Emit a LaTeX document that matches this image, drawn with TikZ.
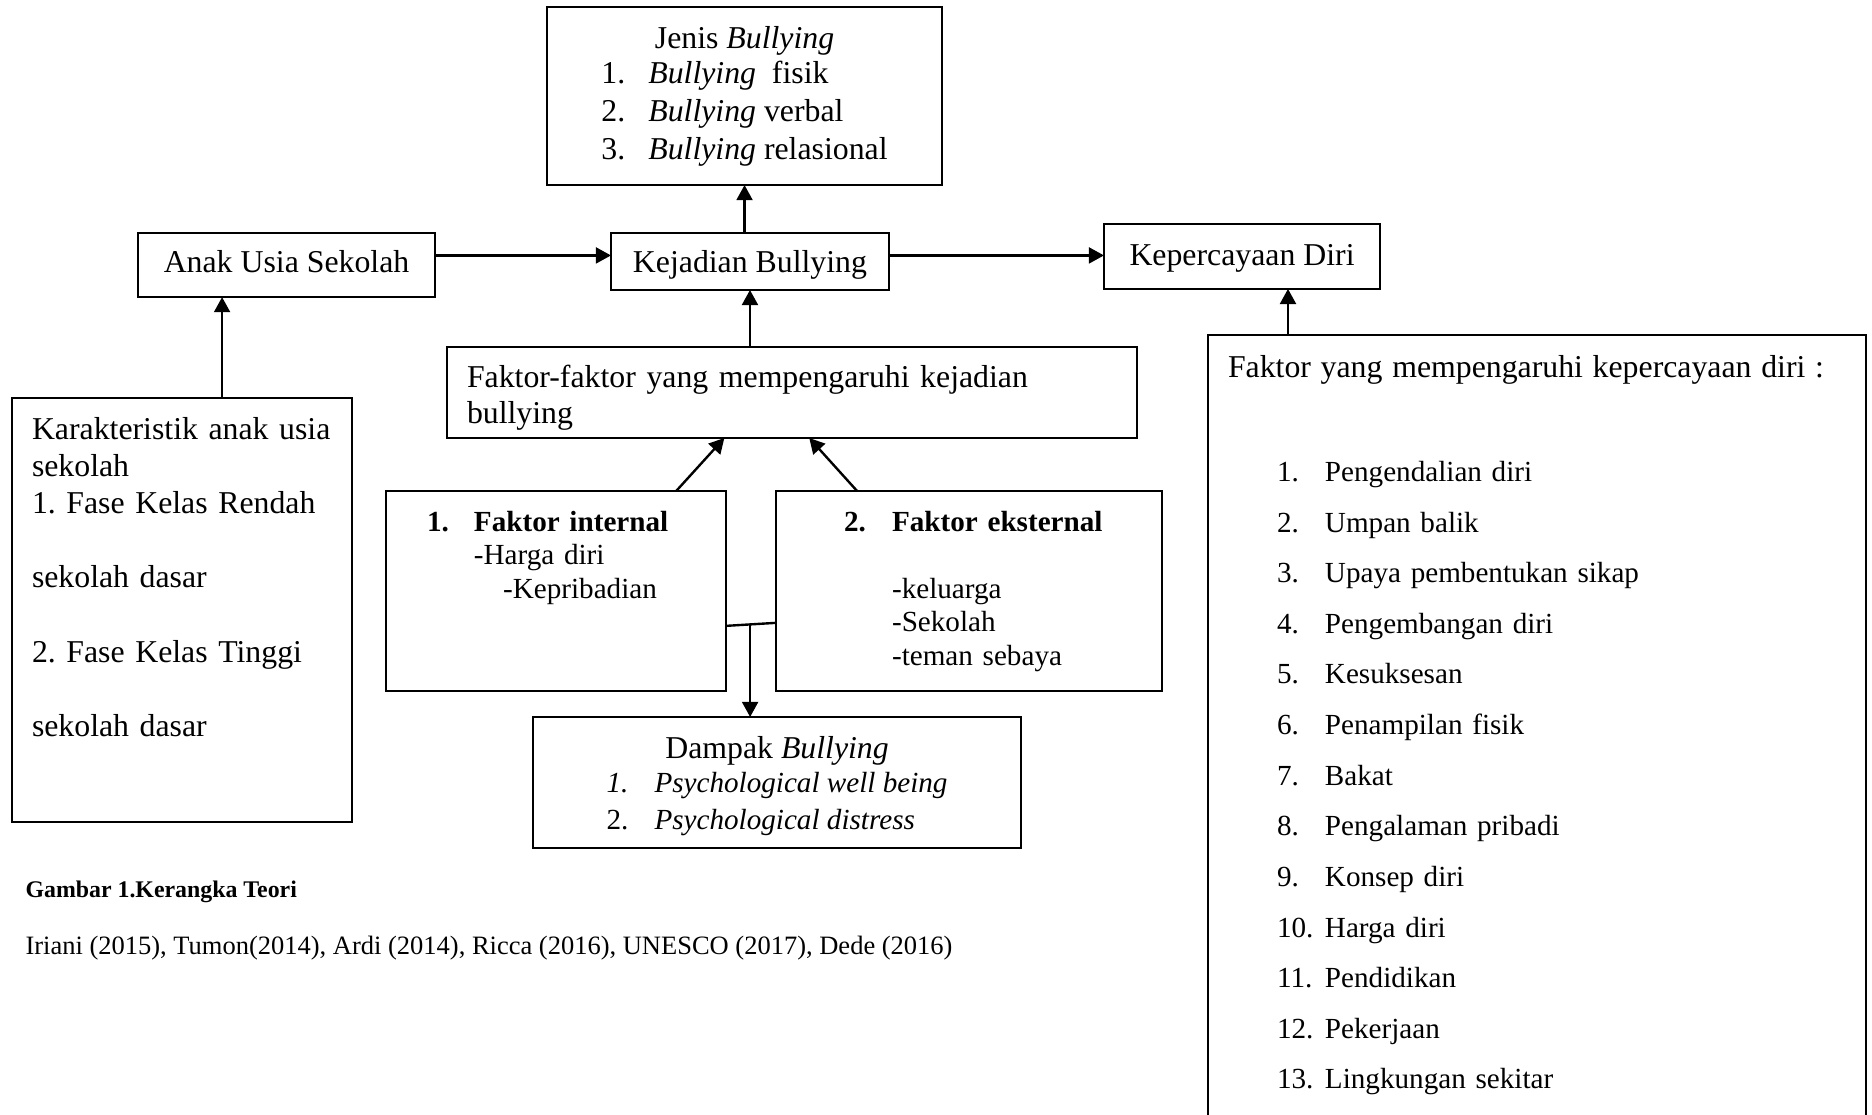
\documentclass[tikz,border=0pt]{standalone}
\usepackage{fontspec}
\setmainfont{Liberation Serif}
\usetikzlibrary{arrows.meta, calc}
\frenchspacing

\begin{document}
\begin{tikzpicture}[
  x=0.3774pt, y=-0.3774pt,
  box/.style={draw, line width=0.8pt, inner sep=0pt, outer sep=0pt, anchor=north west, font=\fontsize{12}{14}\selectfont},
  listbox/.style={box, align=left},
  arr/.style={-{Triangle[length=5.7pt, width=6pt]}, line width=0.9pt}
]
\path[use as bounding box, fill=white] (0,0) rectangle (1872,1115);

\node[box, minimum width=149.1pt, text height=14.7pt, text depth=52.5pt, font=\fontsize{12}{14.3}\selectfont] (jenis) at (547,7)
  {\begin{tabular}[t]{@{}p{17.7pt}@{}l@{}}
    \multicolumn{2}{@{}c@{}}{\raisebox{-0.9pt}{Jenis \textit{Bullying}}}\\
    1. & \textit{Bullying}\ \ fisik\\
    2. & \textit{Bullying} verbal\\
    3. & \textit{Bullying} relasional
  \end{tabular}};
\node[box, minimum width=112.1pt, text height=14.9pt, text depth=9.3pt] (anak) at (138,233) {Anak Usia Sekolah};
\node[box, minimum width=104.9pt, text height=14.75pt, text depth=6.75pt] (kejadian) at (611,233) {Kejadian Bullying};
\node[box, minimum width=104.2pt, text height=15.85pt, text depth=8.65pt] (percaya) at (1104,224) {Kepercayaan Diri};
\node[listbox, inner xsep=7.55pt, text width=245.3pt, text height=15.1pt, text depth=19.25pt, font=\fontsize{12}{13.6}\selectfont] (faktor) at (447,347)
  {Faktor-faktor yang mempengaruhi kejadian\\ bullying};
\node[listbox, inner xsep=7.55pt, text width=113.2pt, text height=15.7pt, text depth=144.3pt] (karakter) at (12,398)
  {Karakteristik anak usia\\ sekolah\\ 1. Fase Kelas Rendah\\[14pt] sekolah dasar\\[14pt] 2. Fase Kelas Tinggi\\[14pt] sekolah dasar};
\node[listbox, inner xsep=15.5pt, text width=97.4pt, text height=15.2pt, text depth=60.2pt, font=\fontsize{11}{12.65}\selectfont] (internal) at (386,491)
  {\makebox[17.7pt][l]{\textbf{1.}}\textbf{Faktor internal}\\
   \hspace*{17.7pt}-Harga diri\\
   \hspace*{28.7pt}-Kepribadian};
\node[listbox, inner xsep=25.7pt, text width=94.3pt, text height=15.2pt, text depth=60.2pt, font=\fontsize{11}{12.65}\selectfont] (eksternal) at (776,491)
  {\mbox{\makebox[18.1pt][l]{\textbf{2.}}\textbf{Faktor eksternal}}\\[12.65pt]
   \hspace*{18.1pt}-keluarga\\
   \hspace*{18.1pt}-Sekolah\\
   \hspace*{18.1pt}-teman sebaya};
\node[box, minimum width=184.2pt, text height=15.8pt, text depth=33.6pt, font=\fontsize{11}{10.6}\selectfont] (dampak) at (533,717)
  {\begin{tabular}[t]{@{}p{18.1pt}@{}l@{}}
    \multicolumn{2}{@{}c@{}}{\fontsize{12}{14}\selectfont Dampak \textit{Bullying}}\\[1.9pt]
    \textit{1.} & \textit{Psychological well being}\\[3pt]
    2. & \textit{Psychological distress}
  \end{tabular}};
\node[listbox, inner xsep=7.55pt, text width=233.2pt, text height=16.2pt, text depth=285.7pt, font=\fontsize{11}{19.1}\selectfont] (faktorpd) at (1208,335)
  {{\fontsize{12}{14}\selectfont Faktor yang mempengaruhi kepercayaan diri :}\\[20pt]
   \hspace*{18.5pt}\begin{tabular}[t]{@{}p{18.1pt}@{}l@{}}
    1. & Pengendalian diri\\
    2. & Umpan balik\\
    3. & Upaya pembentukan sikap\\
    4. & Pengembangan diri\\
    5. & Kesuksesan\\
    6. & Penampilan fisik\\
    7. & Bakat\\
    8. & Pengalaman pribadi\\
    9. & Konsep diri\\
    10. & Harga diri\\
    11. & Pendidikan\\
    12. & Pekerjaan\\
    13. & Lingkungan sekitar
   \end{tabular}};

\coordinate (a1) at ($(anak.north east)!0.35!(anak.south east)$);
\draw[arr] (a1) -- (a1 -| kejadian.west);
\draw[arr] (a1 -| kejadian.east) -- (a1 -| percaya.west);
\draw[arr] (kejadian.north -| jenis.south) -- (jenis.south);
\draw[arr] (faktor.north -| kejadian.south) -- (kejadian.south);
\draw[arr] ($(internal.north west)!0.853!(internal.north east)$) -- ($(faktor.south west)!0.402!(faktor.south east)$);
\draw[arr] ($(eksternal.north west)!0.21!(eksternal.north east)$) -- ($(faktor.south west)!0.525!(faktor.south east)$);
\coordinate (j1) at ($(internal.north east)!0.675!(internal.south east)$);
\coordinate (j2) at ($(eksternal.north west)!0.66!(eksternal.south west)$);
\coordinate (j3) at ($(j1)!0.48!(j2)$);
\draw[line width=0.9pt] (j1) -- (j2);
\draw[arr] (j3) -- (j3 |- dampak.north);
\coordinate (k1) at ($(karakter.north west)!0.618!(karakter.north east)$);
\draw[arr] (k1) -- (k1 |- anak.south);
\coordinate (r1) at ($(faktorpd.north west)!0.1216!(faktorpd.north east)$);
\draw[arr] (r1) -- (r1 |- percaya.south);

\node[anchor=base west, inner sep=0pt, font=\fontsize{9}{11}\selectfont\bfseries] (judul) at (25,898) {Gambar 1.Kerangka Teori};
\node[anchor=base west, inner sep=0pt, font=\fontsize{10}{12}\selectfont] (sumber) at (25,955)
  {Iriani (2015), Tumon(2014), Ardi (2014), Ricca (2016), UNESCO (2017), Dede (2016)};
\end{tikzpicture}
\end{document}
